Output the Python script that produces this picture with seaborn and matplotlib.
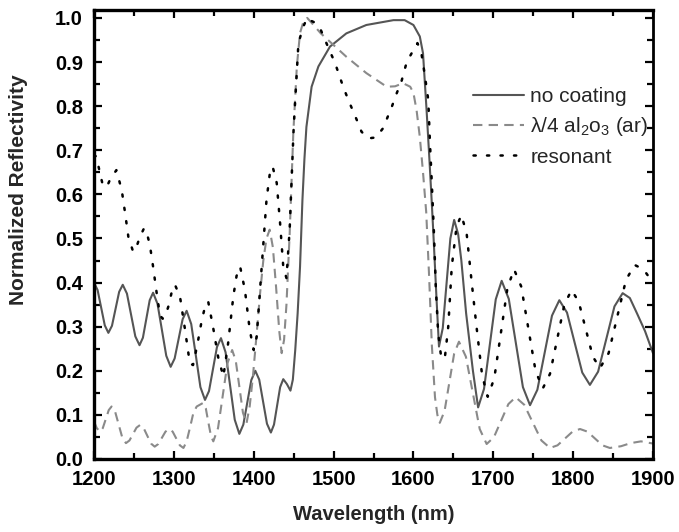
import numpy as np
import pandas as pd
import matplotlib
matplotlib.use("Agg")
import matplotlib.pyplot as plt
import seaborn as sns
from matplotlib.ticker import MultipleLocator

# ---------------- data ----------------
no_coating_x = [1200, 1204.5, 1209, 1213.5, 1218, 1222.5, 1227, 1231.5, 1236, 1241.25, 1246.5, 1251.75,
                1257, 1261.25, 1265.5, 1269.75, 1274, 1279.5, 1285, 1290.5, 1296, 1301, 1306, 1311,
                1316, 1321.75, 1327.5, 1333.25, 1339, 1344, 1349, 1354, 1359, 1364.75, 1370.5, 1376.25,
                1382, 1387, 1392, 1397, 1402, 1406.9, 1411.75, 1416.6, 1421.5, 1425.4, 1429.25, 1433.1,
                1437, 1441.5, 1446, 1449, 1452, 1455, 1458, 1461, 1463.5, 1466, 1472.5, 1481, 1495.5,
                1516, 1541, 1575, 1589, 1600, 1608, 1612, 1616.5, 1620, 1623, 1625, 1629, 1632,
                1636.75, 1641.5, 1646.25, 1651, 1656, 1660, 1666, 1674.5, 1681, 1688.4, 1695.75, 1703.1,
                1710.5, 1719.4, 1728.25, 1737.1, 1746, 1755.2, 1764.35, 1773.5, 1782.7, 1792.3, 1801.85,
                1811.4, 1821, 1831.25, 1841.5, 1851.75, 1862, 1871, 1880, 1890, 1900]
no_coating_y = [0.400, 0.383, 0.343, 0.303, 0.286, 0.302, 0.3405, 0.379, 0.395, 0.375, 0.3265, 0.278,
                0.258, 0.275, 0.3175, 0.360, 0.377, 0.352, 0.293, 0.234, 0.209, 0.228, 0.2725, 0.317,
                0.336, 0.306, 0.235, 0.163, 0.134, 0.154, 0.204, 0.254, 0.274, 0.242, 0.1655, 0.089,
                0.057, 0.078, 0.1285, 0.179, 0.200, 0.180, 0.130, 0.080, 0.060, 0.078, 0.1205, 0.163,
                0.181, 0.170, 0.155, 0.18, 0.247, 0.33, 0.436, 0.587, 0.68, 0.753, 0.844, 0.89, 0.935,
                0.965, 0.984, 0.995, 0.995, 0.984, 0.958, 0.92, 0.79, 0.68, 0.58, 0.51, 0.36, 0.255,
                0.297, 0.3985, 0.500, 0.542, 0.51, 0.45, 0.33, 0.20, 0.117, 0.159, 0.2605, 0.362,
                0.404, 0.363, 0.263, 0.163, 0.122, 0.157, 0.241, 0.325, 0.360, 0.332, 0.264,
                0.196, 0.168, 0.198, 0.272, 0.346, 0.376, 0.365, 0.33, 0.29, 0.24]

ar_x = [1200, 1203.5, 1207.5, 1211, 1214.75, 1218.5, 1222, 1226.5, 1231, 1235.5, 1240, 1244.4, 1248.8,
        1253.2, 1257.6, 1262.2, 1266.8, 1271.4, 1276, 1280.5, 1285, 1289.5, 1294, 1298.5, 1303, 1307.5,
        1312, 1316, 1320.3, 1324.5, 1328.6, 1336.5, 1340, 1343, 1346.5, 1349.4, 1355.3, 1361.2, 1367.1,
        1373, 1377.5, 1382, 1386.5, 1391, 1395, 1399, 1403.5, 1408, 1412, 1416, 1420, 1424, 1428, 1432,
        1435, 1438, 1441, 1445, 1449.6, 1454, 1458, 1462, 1467, 1472, 1484, 1495.5, 1516, 1541, 1566.5,
        1577, 1587, 1596, 1600, 1604, 1608, 1612, 1616, 1619.5, 1623, 1627, 1630, 1633, 1639, 1645, 1651,
        1657, 1665.7, 1674.35, 1683, 1691.7, 1700.8, 1709.85, 1718.9, 1728, 1738.75, 1749.5, 1760.25,
        1771, 1780.4, 1789.8, 1799.2, 1808.6, 1817.95, 1827.3, 1836.65, 1846, 1860, 1872, 1885, 1900]
ar_y = [0.085, 0.07, 0.062, 0.07, 0.0905, 0.111, 0.119, 0.107, 0.0775, 0.048, 0.036, 0.042, 0.0565,
        0.071, 0.077, 0.070, 0.0525, 0.035, 0.028, 0.034, 0.048, 0.062, 0.068, 0.062, 0.0465, 0.031,
        0.025, 0.04, 0.072, 0.105, 0.119, 0.127, 0.115, 0.085, 0.052, 0.040, 0.070, 0.1435, 0.217,
        0.247, 0.223, 0.164, 0.105, 0.081, 0.12, 0.187, 0.28, 0.376, 0.45, 0.50, 0.52, 0.48, 0.39, 0.29,
        0.24, 0.27, 0.35, 0.51, 0.74, 0.89, 0.966, 0.99, 1.0, 0.99, 0.965, 0.946, 0.912, 0.875, 0.844,
        0.845, 0.852, 0.844, 0.83, 0.79, 0.73, 0.65, 0.56, 0.42, 0.26, 0.14, 0.10, 0.082, 0.109, 0.174, 0.239,
        0.266, 0.232, 0.15, 0.068, 0.034, 0.0495, 0.087, 0.1245, 0.14, 0.123, 0.0825, 0.042,
        0.025, 0.031, 0.0465, 0.062, 0.068, 0.062, 0.0465, 0.031, 0.025, 0.029, 0.036, 0.04, 0.035]

resonant_x = [1200, 1203, 1207.5, 1211, 1216, 1220, 1228, 1234.7, 1239, 1243, 1249, 1253, 1257.6, 1262.6,
              1266.5, 1270, 1274, 1278.5, 1282.6, 1286, 1289, 1293, 1297, 1301.4, 1307.7, 1314, 1320, 1324,
              1329.5, 1335, 1339, 1343, 1349, 1355.7, 1362, 1368, 1374.4, 1378.5, 1383, 1389, 1395, 1400,
              1403.7, 1410, 1416, 1420, 1423.7, 1428.8, 1433, 1437, 1441, 1445, 1450, 1456, 1462, 1467,
              1470, 1476, 1483, 1491, 1502, 1512, 1518.5, 1529, 1535, 1543.5, 1553, 1562, 1573, 1579, 1585,
              1591.6, 1599, 1605, 1610, 1614.5, 1618.6, 1620.7, 1623, 1625.7, 1628, 1631, 1635, 1639.5,
              1643.6, 1648, 1654, 1660, 1666.6, 1673, 1679, 1686, 1693, 1701.25, 1709.5, 1717.75, 1726,
              1735, 1744, 1753, 1762, 1771, 1780, 1789, 1798, 1806.9, 1815.8, 1824.7, 1833.6, 1844.45,
              1855.3, 1866.15, 1877, 1888, 1900]
resonant_y = [0.69, 0.685, 0.648, 0.621, 0.617, 0.633, 0.655, 0.61, 0.557, 0.504, 0.47, 0.48, 0.504, 0.523,
              0.51, 0.485, 0.436, 0.376, 0.326, 0.318, 0.323, 0.345, 0.376, 0.395, 0.368, 0.293, 0.217, 0.213,
              0.26, 0.315, 0.345, 0.357, 0.30, 0.229, 0.187, 0.263, 0.368, 0.415, 0.436, 0.383, 0.293, 0.247,
              0.277, 0.436, 0.587, 0.645, 0.663, 0.626, 0.535, 0.436, 0.41, 0.52, 0.75, 0.943, 0.98, 1.0,
              0.995, 0.99, 0.977, 0.943, 0.897, 0.844, 0.814, 0.769, 0.742, 0.727, 0.729, 0.75, 0.799, 0.829, 0.856,
              0.90, 0.924, 0.943, 0.92, 0.867, 0.814, 0.717, 0.626, 0.512, 0.39, 0.285, 0.227, 0.232,
              0.30, 0.436, 0.527, 0.553, 0.512, 0.40, 0.30, 0.19, 0.141, 0.183, 0.2855, 0.388, 0.43,
              0.391, 0.295, 0.199, 0.16, 0.193, 0.2715, 0.35, 0.383, 0.357, 0.2945, 0.232, 0.206, 0.240,
              0.323, 0.406, 0.44, 0.43, 0.40]

labels = ["no coating", "\u03bb/4 al$_\\mathregular{2}$o$_\\mathregular{3}$ (ar)", "resonant"]
x_ticks = [1200, 1300, 1400, 1500, 1600, 1700, 1800, 1900]
y_ticks = [0.0, 0.1, 0.2, 0.3, 0.4, 0.5, 0.6, 0.7, 0.8, 0.9, 1.0]

# ---------------- style ----------------
sns.set_theme(style="ticks")
plt.rcParams["font.family"] = ["Liberation Sans", "DejaVu Sans"]
plt.rcParams["mathtext.fontset"] = "custom"
plt.rcParams["mathtext.rm"] = "Liberation Sans"
plt.rcParams["mathtext.it"] = "Liberation Sans:italic"
plt.rcParams["mathtext.bf"] = "Liberation Sans:bold"

fig = plt.figure(figsize=(6.79, 5.32), dpi=100)
ax = fig.add_axes([94 / 679, 1 - 459 / 532, (653 - 94) / 679, (459 - 10) / 532])

sns.lineplot(x=no_coating_x, y=no_coating_y, ax=ax, color="#555555", lw=1.5,
             sort=False, estimator=None, label=labels[0])
sns.lineplot(x=ar_x, y=ar_y, ax=ax, color="#8a8a8a", lw=1.5,
             sort=False, estimator=None, label=labels[1], linestyle=(0, (4.5, 3)))
sns.lineplot(x=resonant_x, y=resonant_y, ax=ax, color="black", lw=1.8,
             sort=False, estimator=None, label=labels[2], linestyle=(0, (0.9, 4.5)))
for ln in ax.get_lines():
    ln.set_dash_capstyle("round")
ax.get_lines()[1].set_dash_capstyle("butt")

ax.set_xlim(1200, 1900)
ax.set_ylim(0, 1.018)
ax.set_xticks(x_ticks)
ax.set_xticklabels([str(v) for v in x_ticks])
ax.set_yticks(y_ticks)
ax.set_yticklabels([f"{v:.1f}" for v in y_ticks])
ax.xaxis.set_minor_locator(MultipleLocator(50))
ax.yaxis.set_minor_locator(MultipleLocator(0.05))

for lab in ax.get_xticklabels() + ax.get_yticklabels():
    lab.set_fontweight("bold")
    lab.set_fontsize(14.5)

ax.tick_params(which="both", direction="in", width=1.6, colors="black",
               top=True, right=True, labeltop=False, labelright=False)
ax.tick_params(which="major", length=6, pad=8)
ax.tick_params(which="minor", length=4)

for side, w in [("left", 2.4), ("bottom", 2.4), ("top", 2.4), ("right", 2.0)]:
    ax.spines[side].set_visible(True)
    ax.spines[side].set_linewidth(w)
    ax.spines[side].set_color("black")

ax.set_xlabel("Wavelength (nm)", fontsize=14.5, fontweight="bold")
ax.set_ylabel("Normalized Reflectivity", fontsize=15, fontweight="bold")
ax.xaxis.set_label_coords(0.5, -0.102)
ax.yaxis.set_label_coords(-0.118, 0.60)

leg = ax.legend(loc="upper left", bbox_to_anchor=((473 - 94) / 559, (459 - 87) / 449),
                frameon=False, fontsize=15, handlelength=2.45, handletextpad=0.3,
                labelspacing=0.45, borderpad=0, borderaxespad=0)

fig.savefig("out.png", dpi=100)
